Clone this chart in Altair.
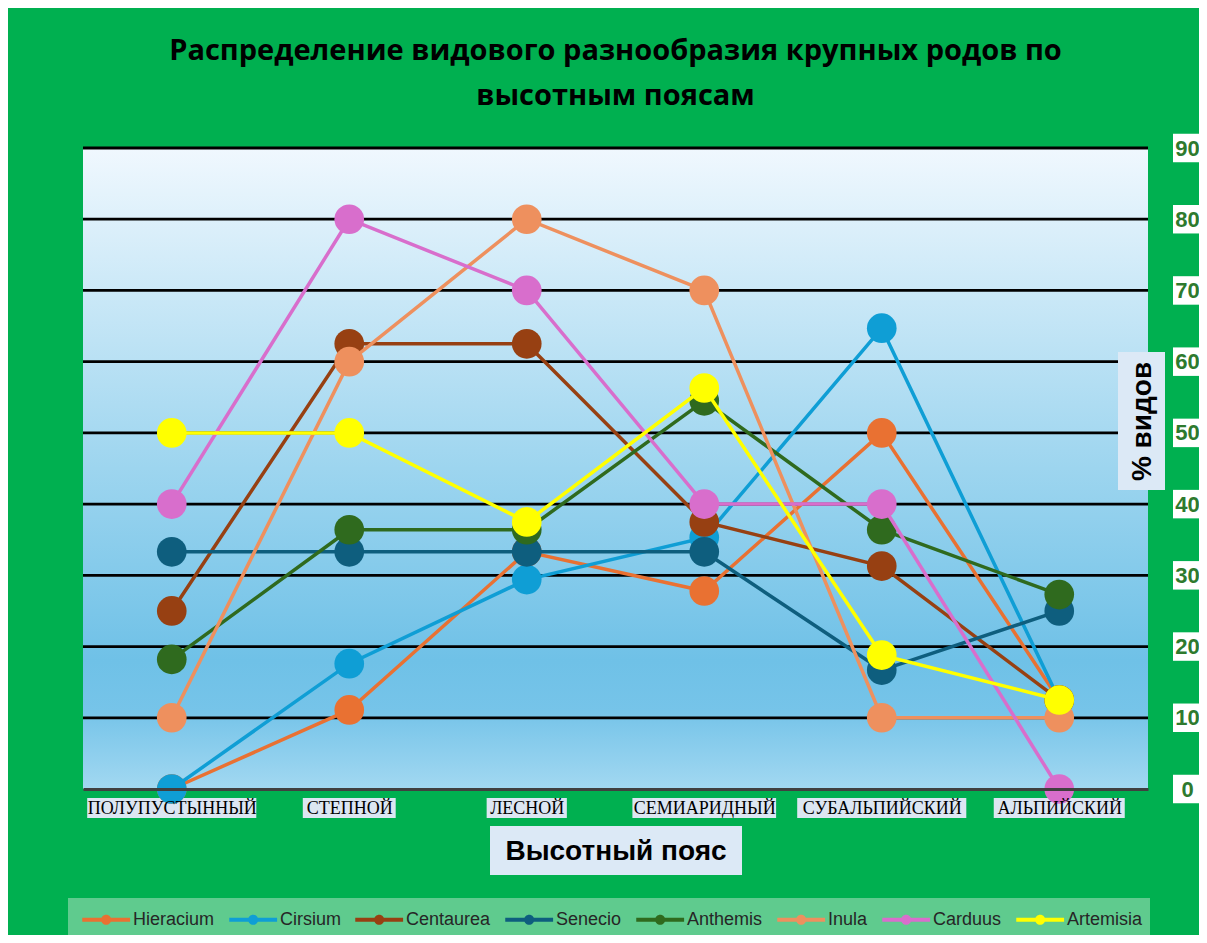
import altair as alt
import pandas as pd

zones = ["ПОЛУПУСТЫННЫЙ", "СТЕПНОЙ", "ЛЕСНОЙ", "СЕМИАРИДНЫЙ", "СУБАЛЬПИЙСКИЙ", "АЛЬПИЙСКИЙ"]

series = ["Hieracium", "Cirsium", "Centaurea", "Senecio", "Anthemis", "Inula", "Carduus", "Artemisia"]
colors = ["#E97132", "#0F9ED5", "#974012", "#0E5E7E", "#2F6A1E", "#EE905E", "#D86ECC", "#FFFF00"]

hieracium = [0, 11.1, 33.3, 27.8, 50, 12.5]
cirsium = [0, 17.6, 29.4, 35.3, 64.7, 12.5]
centaurea = [25, 62.5, 62.5, 37.5, 31.3, 12.5]
senecio = [33.3, 33.3, 33.3, 33.3, 16.7, 25]
anthemis = [18.2, 36.4, 36.4, 54.5, 36.4, 27.3]
inula = [10, 60, 80, 70, 10, 10]
carduus = [40, 80, 70, 40, 40, 0]
artemisia = [50, 50, 37.5, 56.3, 18.8, 12.5]

values = [hieracium, cirsium, centaurea, senecio, anthemis, inula, carduus, artemisia]
y_ticks = [0, 10, 20, 30, 40, 50, 60, 70, 80, 90]
grid_ticks = [10, 20, 30, 40, 50, 60, 70, 80, 90]

rows = []
for s, vals in zip(series, values):
    for z, v in zip(zones, vals):
        rows.append({"series": s, "zone": z, "pct": v})
df = pd.DataFrame(rows)
zone_df = pd.DataFrame({"zone": zones})
tick_df = pd.DataFrame({"tick": y_ticks})
grid_df = pd.DataFrame({"tick": grid_ticks})

W, H = 1065, 641

x_scale = alt.Scale(type="point", padding=0.5, domain=zones)
y_scale = alt.Scale(domain=[0, 90], nice=False, zero=True)
color_scale = alt.Scale(domain=series, range=colors)

legend_path = ("M-0.5,-0.14H2.8V0.14H-0.5Z "
               "M1.5,0A0.35,0.35 0 1,1 0.8,0A0.35,0.35 0 1,1 1.5,0Z")
legend = alt.Legend(
    title=None, orient="none", legendX=-15, legendY=750, direction="horizontal",
    columns=8, fillColor="#5FCB8E", padding=7, symbolType=legend_path,
    symbolSize=841, symbolStrokeWidth=0, labelFont="Liberation Sans",
    labelFontSize=18, labelColor="#262626", columnPadding=7, labelOffset=29,
)

x_axis = alt.Axis(
    title="Высотный пояс", labelFont="Liberation Serif", labelFontSize=18,
    labelColor="black", labelPadding=19, labelBaseline="middle", ticks=False,
    domainColor="#404040", domainWidth=3, grid=False, labelAngle=0,
    titleFont="Liberation Sans", titleFontSize=28, titleFontWeight="bold",
    titleColor="black", titleY=62, titleBaseline="middle", labelOverlap=False,
    zindex=1,
)
y_axis = alt.Axis(
    orient="right", values=y_ticks, title="% видов", labelFont="Liberation Sans",
    labelFontSize=22, labelFontWeight="bold", labelColor="#2E7A2E",
    labelAlign="center", labelPadding=39, labelBaseline="middle", ticks=False,
    domain=False, grid=False,
    titleFont="Liberation Sans", titleFontSize=28, titleFontWeight="bold",
    titleColor="black", titleAngle=270, titleX=-6, titleY=273,
    titleAlign="center", titleBaseline="middle", zindex=1,
)

X = alt.X("zone:N", sort=zones, scale=x_scale, axis=x_axis, title="Высотный пояс")
Y = alt.Y("pct:Q", scale=y_scale, axis=y_axis, title="% видов")

one = zone_df.head(1)

# plot-area gradient background
grad = alt.Gradient(
    gradient="linear", x1=0, y1=0, x2=0, y2=1,
    stops=[alt.GradientStop(offset=0, color="#F0F8FE"),
           alt.GradientStop(offset=0.5, color="#9DD5EF"),
           alt.GradientStop(offset=0.8, color="#6FC1E7"),
           alt.GradientStop(offset=0.88, color="#76C4E9"),
           alt.GradientStop(offset=1, color="#A2D8F1")],
)
bg = alt.Chart(one).mark_rect(color=grad).encode(
    x=alt.value(0), x2=alt.value(W), y=alt.value(0), y2=alt.value(H)
)

# horizontal gridlines
grid = alt.Chart(grid_df).mark_rule(color="black", strokeWidth=2.8).encode(
    y=alt.Y("tick:Q", scale=y_scale, axis=y_axis, title="% видов"),
    x=alt.value(0), x2=alt.value(W),
)

# label backgrounds (x labels)
xlab_bg = alt.Chart(zone_df).mark_bar(color="#DCE6F2").transform_calculate(
    w="length(datum.zone) * 12.7 + 4"
).encode(
    x=X,
    size=alt.Size("w:Q", scale=None, legend=None),
    y=alt.value(H + 9), y2=alt.value(H + 29),
)

# label backgrounds (y labels)
ylab_bg = alt.Chart(tick_df).mark_rect(color="white").transform_calculate(
    lo="datum.tick - 2", hi="datum.tick + 2"
).encode(
    y=alt.Y("lo:Q", scale=y_scale, axis=y_axis, title="% видов"), y2="hi:Q",
    x=alt.value(W + 25), x2=alt.value(W + 53),
)

# title boxes
xtitle_bg = alt.Chart(one).mark_rect(color="#DCE9F6").encode(
    x=alt.value(407), x2=alt.value(659), y=alt.value(H + 37), y2=alt.value(H + 86)
)
ytitle_bg = alt.Chart(one).mark_rect(color="#DCE9F6").encode(
    x=alt.value(1035), x2=alt.value(1082), y=alt.value(204), y2=alt.value(342)
)

layers = [bg, grid, xlab_bg, ylab_bg, xtitle_bg, ytitle_bg]
base = alt.Chart(df)
for s in series:
    sub = base.transform_filter(alt.datum.series == s)
    layers.append(sub.mark_line(strokeWidth=3.5).encode(
        x=X, y=Y, color=alt.Color("series:N", scale=color_scale, legend=legend)
    ))
    layers.append(sub.mark_circle(size=880, opacity=1).encode(
        x=X, y=Y, color=alt.Color("series:N", scale=color_scale, legend=legend)
    ))

chart = alt.layer(*layers).properties(
    width=W, height=H,
    title=alt.TitleParams(
        text=["Распределение видового разнообразия крупных родов по", "высотным поясам"],
        font="Open Sans", fontSize=29, fontWeight="bold", color="black",
        anchor="middle", lineHeight=45, offset=23,
    ),
    autosize=alt.AutoSizeParams(type="none"),
    padding={"left": 75, "top": 140, "right": 51, "bottom": 146},
    background="#00B050",
).configure_view(stroke=None)

chart.save("out.html", embed_options={"renderer": "svg", "actions": False})
